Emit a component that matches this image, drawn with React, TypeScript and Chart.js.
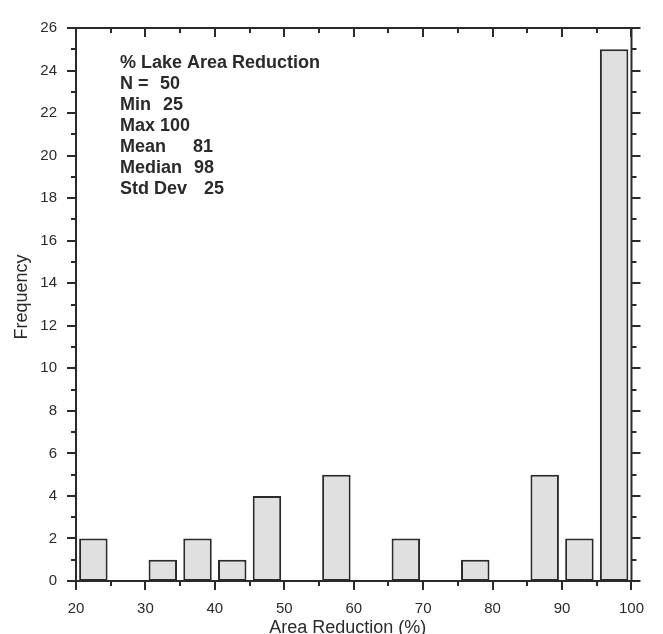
import React, { useEffect, useRef } from "react";
import { Chart, registerables } from "chart.js";

Chart.register(...registerables);

const binCenters = [22.5, 27.5, 32.5, 37.5, 42.5, 47.5, 52.5, 57.5, 62.5, 67.5, 72.5, 77.5, 82.5, 87.5, 92.5, 97.5];
const counts = [2, 0, 1, 2, 1, 4, 0, 5, 0, 2, 0, 1, 0, 5, 2, 25];
const statLabels = ["% Lake Area Reduction", "N =", "Min", "Max", "Mean", "Median", "Std Dev"];
const statValues = ["", "50", "25", "100", "81", "98", "25"];
const xTitle = "Area Reduction (%)";
const yTitle = "Frequency";

const FONT = "'Liberation Sans', Arial, sans-serif";
const INK = "#2a2a2a";

const framePlugin = {
  id: "frame",
  afterDraw(chart: any) {
    const ctx = chart.ctx;
    const { left: L, right: R, top: T, bottom: B } = chart.chartArea;
    const xs = chart.scales.x;
    const ys = chart.scales.y;
    ctx.save();
    ctx.strokeStyle = INK;
    ctx.lineWidth = 2;
    ctx.lineCap = "butt";
    ctx.beginPath();
    ctx.moveTo(L - 9, B); ctx.lineTo(R + 9, B);
    ctx.moveTo(L - 9, T); ctx.lineTo(R + 9, T);
    ctx.moveTo(L, T); ctx.lineTo(L, B);
    ctx.moveTo(R, T); ctx.lineTo(R, B);
    for (let v = xs.min; v <= xs.max + 1e-9; v += 5) {
      const px = Math.round(xs.getPixelForValue(v));
      const len = (v % 10 === 0) ? 9 : 5;
      ctx.moveTo(px, B); ctx.lineTo(px, B + len);
      ctx.moveTo(px, T); ctx.lineTo(px, T + len);
    }
    for (let v = ys.min; v <= ys.max + 1e-9; v += 1) {
      const py = Math.round(ys.getPixelForValue(v));
      const len = (v % 2 === 0) ? 9 : 5;
      ctx.moveTo(L, py); ctx.lineTo(L - len, py);
      ctx.moveTo(R, py); ctx.lineTo(R + len, py);
    }
    ctx.stroke();

    // axis titles
    ctx.fillStyle = INK;
    ctx.font = `18px ${FONT}`;
    ctx.textAlign = "center";
    ctx.textBaseline = "middle";
    ctx.fillText(xTitle, (L + R) / 2 - 6, 628);
    ctx.save();
    ctx.translate(22, 297);
    ctx.rotate(-Math.PI / 2);
    ctx.fillText(yTitle, 0, 0);
    ctx.restore();

    // stats text
    ctx.font = `bold 18px ${FONT}`;
    ctx.textAlign = "left";
    ctx.textBaseline = "middle";
    const valueX = [0, 160, 163, 0, 193, 194, 204];
    statLabels.forEach((lab, i) => {
      const y = 63 + i * 21;
      if (i === 3) {
        ctx.fillText(lab + " " + statValues[i], 120, y);
      } else {
        ctx.fillText(lab, 120, y);
        if (statValues[i]) ctx.fillText(statValues[i], valueX[i], y);
      }
    });
    ctx.restore();
  },
};

export default function App() {
  const ref = useRef<HTMLCanvasElement>(null);
  useEffect(() => {
    document.body.style.margin = "0";
    const chart = new Chart(ref.current!, {
      type: "bar",
      data: {
        datasets: [
          {
            data: binCenters.map((x, i) => ({ x, y: counts[i] })),
            backgroundColor: "#e0e0e0",
            borderColor: INK,
            borderWidth: 2,
            borderSkipped: false,
            barPercentage: 0.82,
            categoryPercentage: 1,
          },
        ],
      },
      options: {
        responsive: false,
        animation: false,
        layout: { padding: { top: 17, right: 23, left: 0, bottom: 0 } },
        plugins: { legend: { display: false }, tooltip: { enabled: false } },
        scales: {
          x: {
            type: "linear",
            min: 20,
            max: 100,
            offset: false,
            grid: { display: false, drawTicks: false },
            border: { display: false },
            ticks: { stepSize: 10, padding: 19, color: INK, font: { family: FONT, size: 15 }, maxRotation: 0 },
            afterFit: (s: any) => { s.height = 53; },
          },
          y: {
            min: 0,
            max: 26,
            grid: { display: false, drawTicks: false },
            border: { display: false },
            ticks: { stepSize: 2, padding: 19, color: INK, font: { family: FONT, size: 15 } },
            afterFit: (s: any) => { s.width = 76; },
          },
        },
      },
      plugins: [framePlugin],
    } as any);
    return () => chart.destroy();
  }, []);
  return (
    <div style={{ width: 663, height: 634 }}>
      <canvas ref={ref} width={663} height={634} style={{ display: "block" }} />
    </div>
  );
}
